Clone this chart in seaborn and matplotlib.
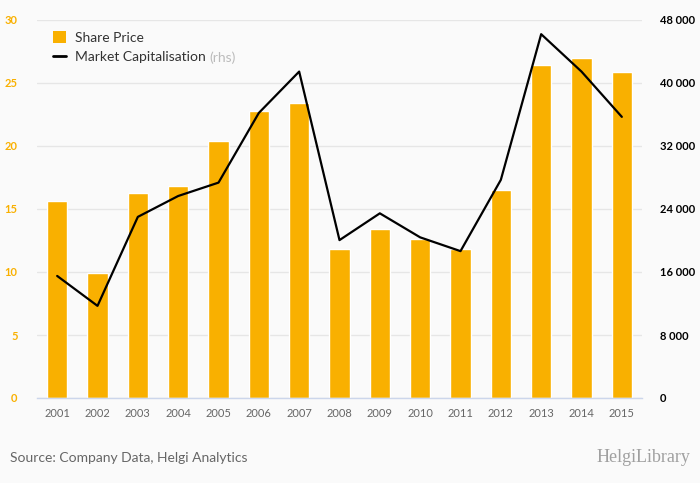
import numpy as np
import matplotlib
matplotlib.use("Agg")
import matplotlib.pyplot as plt
import seaborn as sns
from matplotlib.patches import Patch
from matplotlib.lines import Line2D
from matplotlib.ticker import FuncFormatter, FixedLocator

years = ["2001", "2002", "2003", "2004", "2005", "2006", "2007", "2008",
         "2009", "2010", "2011", "2012", "2013", "2014", "2015"]
share_price = [15.65, 9.95, 16.3, 16.85, 20.4, 22.8, 23.45, 11.85,
               13.45, 12.65, 11.85, 16.5, 26.45, 27.0, 25.9]
market_cap = [15500, 11700, 23000, 25650, 27350, 36200, 41450, 20050,
              23450, 20400, 18650, 27700, 46200, 41450, 35700]
left_ticks = [0, 5, 10, 15, 20, 25, 30]
right_ticks = [0, 8000, 16000, 24000, 32000, 40000, 48000]

ORANGE = "#F9B000"
BG = "#FAFAFA"

sns.set_theme(style="white")
plt.rcParams["font.family"] = ["Lato", "DejaVu Sans"]

fig = plt.figure(figsize=(7, 4.83), dpi=100, facecolor=BG)
ax = fig.add_axes([37 / 700, 1 - 398 / 483, (642 - 37) / 700, (398 - 20) / 483])
ax.set_facecolor(BG)

sns.barplot(x=years, y=share_price, color=ORANGE, width=0.5, saturation=1,
            ax=ax, zorder=2)
ax.set_ylim(0, 30)
ax.set_xlim(-0.5, len(years) - 0.5)
ax.yaxis.set_major_locator(FixedLocator(left_ticks))
ax.grid(axis="y", color="#E6E6E6", linewidth=1, zorder=0)
ax.set_axisbelow(True)
for s in ["top", "right", "left"]:
    ax.spines[s].set_visible(False)
ax.spines["bottom"].set_color("#CCD6EB")
ax.spines["bottom"].set_linewidth(1)
ax.tick_params(axis="y", length=0, labelsize=8, labelcolor=ORANGE, pad=14)
for t in ax.get_yticklabels():
    t.set_fontweight("bold")
ax.tick_params(axis="x", which="major", length=0, labelsize=8,
               labelcolor="#666666", pad=7)
ax.set_xticks(np.arange(-0.5, len(years)), minor=True)
ax.tick_params(axis="x", which="minor", length=10, color="#CCD6EB", width=1)
ax.set_xlabel("")
ax.set_ylabel("")

ax2 = ax.twinx()
sns.lineplot(x=np.arange(len(years)), y=market_cap, color="black",
             linewidth=1.6, ax=ax2, zorder=3)
ax2.set_ylim(0, 48000)
ax2.yaxis.set_major_locator(FixedLocator(right_ticks))
ax2.yaxis.set_major_formatter(FuncFormatter(lambda v, p: f"{int(v):,}".replace(",", " ")))
for s in ["top", "right", "left", "bottom"]:
    ax2.spines[s].set_visible(False)
ax2.tick_params(axis="y", length=0, labelsize=8, labelcolor="black", pad=13)
for t in ax2.get_yticklabels():
    t.set_fontweight("bold")
ax2.set_ylabel("")
ax2.grid(False)

handles = [Patch(facecolor=ORANGE, edgecolor="none"),
           Line2D([0], [0], color="black", linewidth=2)]
leg = ax.legend(handles, ["Share Price", "Market Capitalisation"],
                loc="upper left", bbox_to_anchor=(10 / 605, 1 - 5 / 378),
                frameon=False, fontsize=10, handlelength=1.0, handleheight=1.0,
                handletextpad=0.6, labelspacing=0.5, borderaxespad=0)
for t in leg.get_texts():
    t.set_color("#333333")

fig.canvas.draw()
txt = leg.get_texts()[1]
bb = txt.get_window_extent()
x_px = bb.x1 + 4
y_px = (bb.y0 + bb.y1) / 2
fig.text(x_px / fig.bbox.width, y_px / fig.bbox.height, "(rhs)", fontsize=10,
         color="#BBBBBB", va="center", ha="left")

fig.text(10 / 700, 1 - 458 / 483, "Source: Company Data, Helgi Analytics",
         fontsize=10, color="#666666", va="center", ha="left")
fig.text(690 / 700, 1 - 458 / 483, "HelgiLibrary", fontsize=13,
         color="#A0A0A0", va="center", ha="right",
         family=["Liberation Serif", "DejaVu Serif"])

fig.savefig("out.png", dpi=100, facecolor=BG)
